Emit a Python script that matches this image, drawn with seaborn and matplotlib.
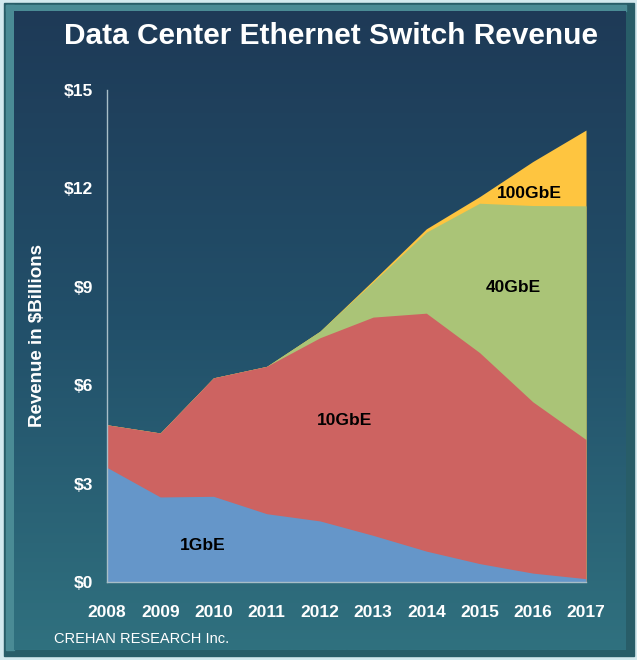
import numpy as np
import pandas as pd
import matplotlib
matplotlib.use("Agg")
import matplotlib.pyplot as plt
import seaborn as sns
from matplotlib.patches import Rectangle
from matplotlib.colors import LinearSegmentedColormap

# ---------------- data ----------------
years = [2008, 2009, 2010, 2011, 2012, 2013, 2014, 2015, 2016, 2017]
gbe1 = [3.50, 2.60, 2.62, 2.09, 1.87, 1.43, 0.95, 0.57, 0.28, 0.11]
gbe10 = [1.30, 1.95, 3.61, 4.49, 5.58, 6.65, 7.25, 6.43, 5.22, 4.24]
gbe40 = [0.00, 0.00, 0.00, 0.00, 0.20, 1.07, 2.47, 4.55, 5.98, 7.12]
gbe100 = [0.00, 0.00, 0.00, 0.00, 0.00, 0.05, 0.10, 0.20, 1.34, 2.31]
series_names = ["1GbE", "10GbE", "40GbE", "100GbE"]
y_ticks = [0, 3, 6, 9, 12, 15]
y_tick_labels = ["\\$0", "\\$3", "\\$6", "\\$9", "\\$12", "\\$15"]
title = "Data Center Ethernet Switch Revenue"
y_label = "Revenue in \\$Billions"
footer = "CREHAN RESEARCH Inc."

df = pd.DataFrame({"year": years, "1GbE": gbe1, "10GbE": gbe10,
                   "40GbE": gbe40, "100GbE": gbe100})
cum = df[series_names].cumsum(axis=1)

# ---------------- style ----------------
sns.set_style("white")
plt.rcParams["font.family"] = ["Liberation Sans", "DejaVu Sans"]
colors = ["#6596c9", "#cd6361", "#aac477", "#fec540"]

W, H = 637, 660
fig = plt.figure(figsize=(W / 100, H / 100), dpi=100)
fig.patch.set_facecolor("#d3e9ee")

# background frame + gradient panel (pixel coordinates)
bg = fig.add_axes([0, 0, 1, 1])
bg.axis("off")
bg.add_patch(Rectangle((4, 3), 630, 653, color="#285d68", zorder=0))
bg.add_patch(Rectangle((6, 5), 620, 6, color="#4a8b95", zorder=0.5))
bg.add_patch(Rectangle((6, 5), 8, 645, color="#4a8b95", zorder=0.5))
grad = np.linspace(0, 1, 256).reshape(-1, 1)
cmap = LinearSegmentedColormap.from_list("bgc", ["#1e3a57", "#22506a", "#30717f"])
bg.imshow(grad, extent=(14, 626, 650, 11), aspect="auto", cmap=cmap, zorder=1)
bg.set_xlim(0, W)
bg.set_ylim(H, 0)

# main axes
y0, y15 = 582.3, 90
ax = fig.add_axes([107 / W, 1 - y0 / H, (586 - 107) / W, (y0 - y15) / H])
ax.patch.set_alpha(0)
# stacked areas: draw cumulative tops from the top layer down (no seams)
for name, c in reversed(list(zip(series_names, colors))):
    ax.fill_between(df["year"], 0, cum[name], color=c, linewidth=0, label=name)

ax.set_xlim(2008, 2017)
ax.set_ylim(0, 15)
ax.set_xticks(years)
ax.set_xticklabels([str(y) for y in years])
ax.set_yticks(y_ticks)
ax.set_yticklabels(y_tick_labels)
sns.despine(ax=ax)
for s in ["left", "bottom"]:
    ax.spines[s].set_color("#a8bec8")
    ax.spines[s].set_linewidth(1)
    ax.spines[s].set_zorder(5)
ax.tick_params(axis="both", colors="#a8bec8", length=3.5, width=1, direction="out",
               labelcolor="white", labelsize=12.5)
ax.tick_params(axis="y", pad=6.5)
ax.tick_params(axis="x", pad=12.5)
for lbl in ax.get_xticklabels() + ax.get_yticklabels():
    lbl.set_fontweight("bold")
ax.grid(False)

# area labels
lab_pos = {"1GbE": (2009.8, 1.13), "10GbE": (2012.47, 4.92),
           "40GbE": (2015.64, 8.98), "100GbE": (2015.94, 11.85)}
for name, (x, y) in lab_pos.items():
    ax.text(x, y, name, ha="center", va="center", fontsize=12.5,
            fontweight="bold", color="black")

fig.text(331 / W, 1 - 36 / H, title, ha="center", va="center", fontsize=21.5,
         fontweight="bold", color="white")
fig.text(38 / W, 1 - 336 / H, y_label, ha="center", va="center", rotation=90,
         fontsize=13.5, fontweight="bold", color="white")
fig.text(54 / W, 1 - 639 / H, footer, ha="left", va="center", fontsize=10.5,
         color="white")

fig.savefig("out.png", dpi=100, facecolor=fig.get_facecolor())
